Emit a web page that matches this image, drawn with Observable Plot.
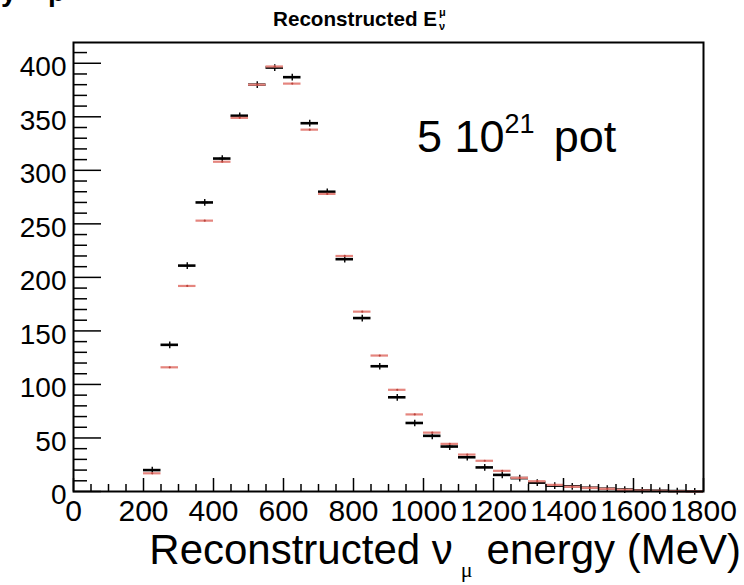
<!DOCTYPE html>
<html><head><meta charset="utf-8">
<script src="https://cdn.jsdelivr.net/npm/d3@7"></script>
<script src="https://cdn.jsdelivr.net/npm/@observablehq/plot@0.6"></script>
<style>body{margin:0;background:#fff;} svg{display:block}</style>
</head><body><div id="chart"></div>
<script>
// bin lower edges (MeV), 50 MeV wide bins
const binLow = [200,250,300,350,400,450,500,550,600,650,700,750,800,850,900,950,1000,1050,1100,1150,1200,1250,1300,1350,1400,1450,1500,1550,1600,1650,1700,1750];
const binWidth = 50;
// black series
const blackCounts = [20,137,211,270,311,351,380,396,387,344,280,217,162,117,88,64,52,42,32,22.5,15.5,12.5,8.3,5.5,4.8,3.5,2.6,1.8,1.1,0.7,0.4,0.1];
// red series
const redCounts = [17,116,192,253,308,349,380,397,381,338,278,220,168,127,95,72,55,44.5,34.5,28.7,19.3,12.8,9.6,6.2,4.4,3.4,2.5,1.6,0.9,0.6,0.3,0.1];
// axis ticks
const xMajorTicks = [0,200,400,600,800,1000,1200,1400,1600,1800];
const xTickLabels = ["0","200","400","600","800","1000","1200","1400","1600","1800"];
const yMajorTicks = [0,50,100,150,200,250,300,350,400];
const yTickLabels = ["0","50","100","150","200","250","300","350","400"];
const xMinorTicks = d3.range(0, 1801, 50).filter(v => v % 200 !== 0);
const yMinorTicks = d3.range(0, 419, 10).filter(v => v % 50 !== 0);

const rows = binLow.map((lo, i) => ({lo, hi: lo + binWidth, mid: lo + binWidth / 2, black: blackCounts[i], red: redCounts[i]}));

const FONT = "'Liberation Sans', Arial, Helvetica, sans-serif";
const RED = "#e5857e";

const chart = Plot.plot({
  width: 744,
  height: 585,
  marginLeft: 73,
  marginRight: 41,
  marginTop: 42,
  marginBottom: 94,
  style: {fontFamily: FONT, background: "white", color: "black", overflow: "visible"},
  x: {domain: [0, 1800]},
  y: {domain: [0, 419.4]},
  marks: [
    Plot.ruleY(rows, {x1: "lo", x2: "hi", y: "black", stroke: "black", strokeWidth: 2.6}),
    Plot.dot(rows, {x: "mid", y: "black", symbol: "plus", r: 2.3, stroke: "black", strokeWidth: 1.4}),
    Plot.ruleY(rows, {x1: "lo", x2: "hi", y: "red", stroke: RED, strokeWidth: 2.2}),
    Plot.dot(rows, {x: "mid", y: "red", r: 1.1, fill: "#b8443c", stroke: null}),
    Plot.frame({stroke: "black", strokeWidth: 2}),
    Plot.axisX({ticks: xMajorTicks, tickSize: -13, tickFormat: () => "", strokeWidth: 1.5}),
    Plot.axisX({ticks: xMinorTicks, tickSize: -7, tickFormat: () => "", strokeWidth: 1.5}),
    Plot.axisX({ticks: xMajorTicks, tickSize: 0, tickPadding: 8, fontSize: 30, tickFormat: (d) => xTickLabels[xMajorTicks.indexOf(d)], label: null}),
    Plot.axisY({ticks: yMajorTicks, tickSize: -28, tickFormat: () => "", strokeWidth: 1.5}),
    Plot.axisY({ticks: yMinorTicks, tickSize: -14, tickFormat: () => "", strokeWidth: 1.5}),
    Plot.axisY({ticks: yMajorTicks, tickSize: 0, tickPadding: 7, dy: 4, fontSize: 28, tickFormat: (d) => yTickLabels[yMajorTicks.indexOf(d)], label: null})
  ]
});

document.getElementById("chart").appendChild(chart);
const svg = d3.select(chart);

// Title
svg.append("text").attr("x", 437).attr("y", 26).attr("text-anchor", "end")
  .attr("font-family", FONT).attr("font-weight", "bold").attr("font-size", 21)
  .attr("textLength", 164).attr("lengthAdjust", "spacingAndGlyphs").text("Reconstructed E");
svg.append("text").attr("x", 439).attr("y", 16).attr("text-anchor", "start").attr("font-family", FONT).attr("font-weight", "bold").attr("font-size", 11).text("μ");
svg.append("text").attr("x", 439).attr("y", 30).attr("text-anchor", "start").attr("font-family", FONT).attr("font-weight", "bold").attr("font-size", 11).text("ν");

// cut-off text fragments at the very top-left
svg.append("text").attr("x", 1).attr("y", 1).attr("text-anchor", "start").attr("font-family", FONT).attr("font-weight", "bold").attr("font-size", 28).text("y");
svg.append("text").attr("x", 48).attr("y", 1).attr("text-anchor", "start").attr("font-family", FONT).attr("font-weight", "bold").attr("font-size", 28).text("p");

// Annotation
const ann = svg.append("text").attr("x", 417).attr("y", 152).attr("text-anchor", "start").attr("font-family", FONT).attr("font-size", 45);
ann.append("tspan").text("5 10");
ann.append("tspan").attr("font-size", 27).attr("dy", -19).text("21");
ann.append("tspan").attr("dy", 19).attr("dx", 19).text("pot");

// X axis title
const xt = svg.append("text").attr("x", 741).attr("y", 564).attr("text-anchor", "end").attr("font-family", FONT).attr("font-size", 42);
xt.append("tspan").text("Reconstructed ν");
xt.append("tspan").attr("font-size", 22).attr("font-family", "'Liberation Serif', serif").attr("dy", 13).attr("dx", 8).text("μ");
xt.append("tspan").attr("dy", -13).attr("dx", 14).text("energy (MeV)");
</script>
</body></html>
